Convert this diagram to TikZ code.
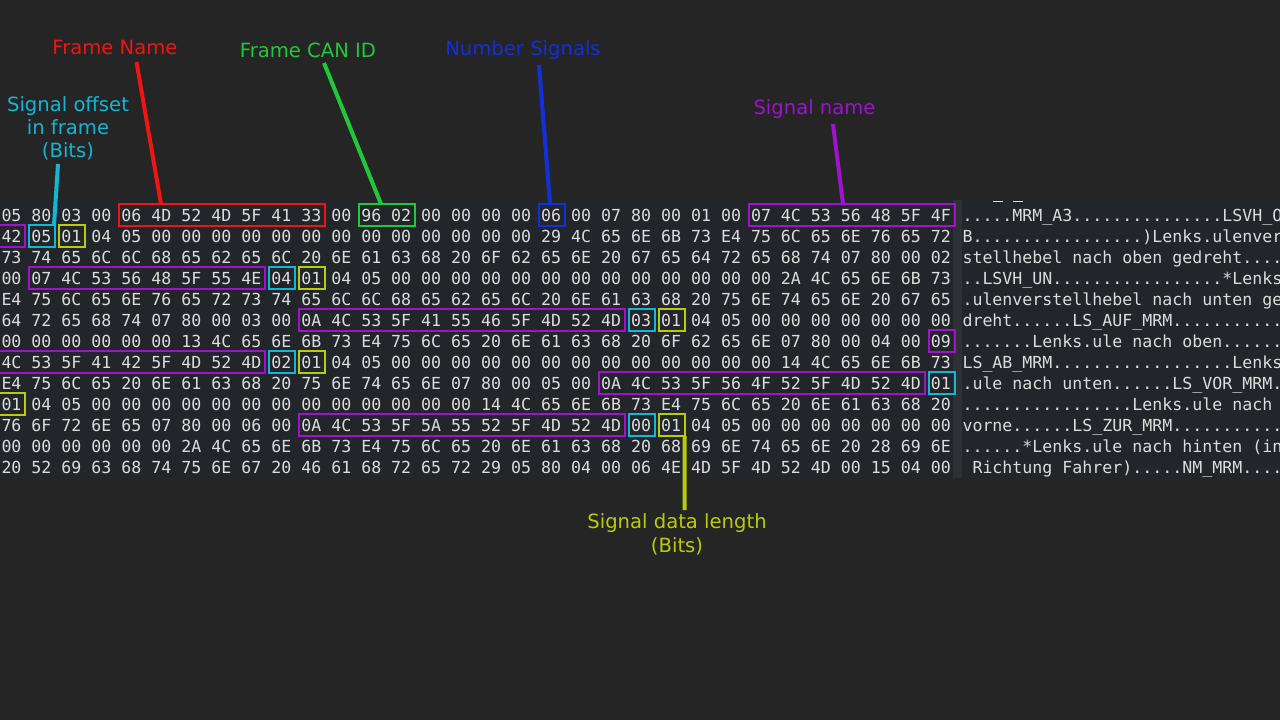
\documentclass[tikz,border=0pt]{standalone}
\usepackage{fontspec}
\setmainfont{DejaVu Sans}
\newfontfamily\hexfont{DejaVu Sans Mono}
\definecolor{bgc}{HTML}{252525}
\definecolor{panelc}{HTML}{22252A}
\definecolor{sepc}{HTML}{2D3035}
\definecolor{txtc}{HTML}{DCDCDC}
\definecolor{cred}{HTML}{F01515}
\definecolor{cgreen}{HTML}{1FC93A}
\definecolor{cblue}{HTML}{1230D8}
\definecolor{cpurple}{HTML}{A011D0}
\definecolor{ccyan}{HTML}{15B5D3}
\definecolor{cyel}{HTML}{B8CC0C}
\tikzset{
  hexrow/.style={anchor=base west, inner sep=0pt, outer sep=0pt, text=txtc, font=\hexfont\fontsize{12.45}{14}\selectfont},
  markbox/.style={draw, line width=1.5pt, inner sep=0pt, outer sep=0pt, minimum height=16.5pt},
  conn/.style={line width=3pt},
  lab/.style={anchor=base, inner sep=0pt, font=\fontsize{14.7}{17}\selectfont}
}
\begin{document}
\begin{tikzpicture}[x=0.75pt,y=-0.75pt]
\useasboundingbox (0,0) rectangle (1280,720);
\fill[bgc] (0,0) rectangle (1280,720);
\fill[panelc] (0,200) rectangle (953,478);
\fill[sepc] (953,200) rectangle (962,478);
\fill[panelc] (962,200) rectangle (1280,478);
% hex rows
\foreach \r/\t in {
0/{05 80 03 00 06 4D 52 4D 5F 41 33 00 96 02 00 00 00 00 06 00 07 80 00 01 00 07 4C 53 56 48 5F 4F},
1/{42 05 01 04 05 00 00 00 00 00 00 00 00 00 00 00 00 00 29 4C 65 6E 6B 73 E4 75 6C 65 6E 76 65 72},
2/{73 74 65 6C 6C 68 65 62 65 6C 20 6E 61 63 68 20 6F 62 65 6E 20 67 65 64 72 65 68 74 07 80 00 02},
3/{00 07 4C 53 56 48 5F 55 4E 04 01 04 05 00 00 00 00 00 00 00 00 00 00 00 00 00 2A 4C 65 6E 6B 73},
4/{E4 75 6C 65 6E 76 65 72 73 74 65 6C 6C 68 65 62 65 6C 20 6E 61 63 68 20 75 6E 74 65 6E 20 67 65},
5/{64 72 65 68 74 07 80 00 03 00 0A 4C 53 5F 41 55 46 5F 4D 52 4D 03 01 04 05 00 00 00 00 00 00 00},
6/{00 00 00 00 00 00 13 4C 65 6E 6B 73 E4 75 6C 65 20 6E 61 63 68 20 6F 62 65 6E 07 80 00 04 00 09},
7/{4C 53 5F 41 42 5F 4D 52 4D 02 01 04 05 00 00 00 00 00 00 00 00 00 00 00 00 00 14 4C 65 6E 6B 73},
8/{E4 75 6C 65 20 6E 61 63 68 20 75 6E 74 65 6E 07 80 00 05 00 0A 4C 53 5F 56 4F 52 5F 4D 52 4D 01},
9/{01 04 05 00 00 00 00 00 00 00 00 00 00 00 00 00 14 4C 65 6E 6B 73 E4 75 6C 65 20 6E 61 63 68 20},
10/{76 6F 72 6E 65 07 80 00 06 00 0A 4C 53 5F 5A 55 52 5F 4D 52 4D 00 01 04 05 00 00 00 00 00 00 00},
11/{00 00 00 00 00 00 2A 4C 65 6E 6B 73 E4 75 6C 65 20 6E 61 63 68 20 68 69 6E 74 65 6E 20 28 69 6E},
12/{20 52 69 63 68 74 75 6E 67 20 46 61 68 72 65 72 29 05 80 04 00 06 4E 4D 5F 4D 52 4D 00 15 04 00}}{
  \node[hexrow] (hex\r) at (1.5,221.5+21*\r) {\t};
}
% ascii rows
\begin{scope}
\clip (962,190) rectangle (1280,478);
\foreach \r/\t in {
0/{.....MRM\_A3...............LSVH\_O},
1/{B.................)Lenks.ulenver},
2/{stellhebel nach oben gedreht....},
3/{..LSVH\_UN.................*Lenks},
4/{.ulenverstellhebel nach unten ge},
5/{dreht......LS\_AUF\_MRM...........},
6/{.......Lenks.ule nach oben......},
7/{LS\_AB\_MRM..................Lenks},
8/{.ule nach unten......LS\_VOR\_MRM.},
9/{.................Lenks.ule nach},
10/{vorne......LS\_ZUR\_MRM...........},
11/{......*Lenks.ule nach hinten (in},
12/{\hphantom{x}Richtung Fahrer).....NM\_MRM....}}{
  \node[hexrow] (asc\r) at (962.5,221.5+21*\r) {\t};
}
\draw[txtc, line width=0.9pt] (993,201.5) -- (1003,201.5) (1013,201.5) -- (1023,201.5);
\end{scope}
% marker boxes
\foreach \n/\r/\a/\b/\c in {fnbox/0/4/10/cred, idbox/0/12/13/cgreen, nsbox/0/18/18/cblue,
  sna/0/25/31/cpurple, snb/1/0/0/cpurple, ofa/1/1/1/ccyan, lna/1/2/2/cyel,
  snc/3/1/8/cpurple, ofc/3/9/9/ccyan, lnc/3/10/10/cyel,
  snd/5/10/20/cpurple, ofd/5/21/21/ccyan, lnd/5/22/22/cyel,
  sne/6/31/31/cpurple, snf/7/0/8/cpurple, off/7/9/9/ccyan, lnf/7/10/10/cyel,
  sng/8/20/30/cpurple, ofg/8/31/31/ccyan, lng/9/0/0/cyel,
  snh/10/10/20/cpurple, ofh/10/21/21/ccyan, lnh/10/22/22/cyel}{
  \pgfmathsetmacro\cx{2+15*(\a+\b)+10}
  \pgfmathsetmacro\cy{215+21*\r}
  \pgfmathsetmacro\w{0.75*(30*(\b-\a)+26)}
  \node[markbox, draw=\c, minimum width=\w pt] (\n) at (\cx,\cy) {};
}
% labels
\node[lab, text=cred] (fnlab) at (115,55) {Frame Name};
\node[lab, text=cgreen] (idlab) at (308,58) {Frame CAN ID};
\node[lab, text=cblue] (nslab) at (523,56) {Number Signals};
\node[lab, text=cpurple] (snlab) at (814.5,115) {Signal name};
\node[lab, text=ccyan] (oflab1) at (68,112) {Signal offset};
\node[lab, text=ccyan] (oflab2) at (68,135) {in frame};
\node[lab, text=ccyan] (oflab3) at (68,158) {(Bits)};
\node[lab, text=cyel] (lnlab1) at (677,528) {Signal data length};
\node[lab, text=cyel] (lnlab2) at (677,552) {(Bits)};
% connector ends near labels
\coordinate (fnT) at (136.5,62);
\coordinate (idT) at (324,63);
\coordinate (nsT) at (539,65);
\coordinate (snT) at (833,124);
\coordinate (ofT) at (58,164);
\coordinate (lnB) at (684.5,510);
% connectors
\draw[conn, cred] (fnT) -- ([xshift=-45.75pt]fnbox.north);
\draw[conn, cgreen] (idT) -- ([xshift=-4.5pt]idbox.north);
\draw[conn, cblue] (nsT) -- ([xshift=-1.5pt]nsbox.north);
\draw[conn, cpurple] (snT) -- ([xshift=-6.75pt]sna.north);
\draw[conn, ccyan] (ofT) -- ([xshift=9pt]ofa.north);
\draw[conn, cyel] ([xshift=9.4pt]lnh.south) -- (lnB);
\end{tikzpicture}
\end{document}
